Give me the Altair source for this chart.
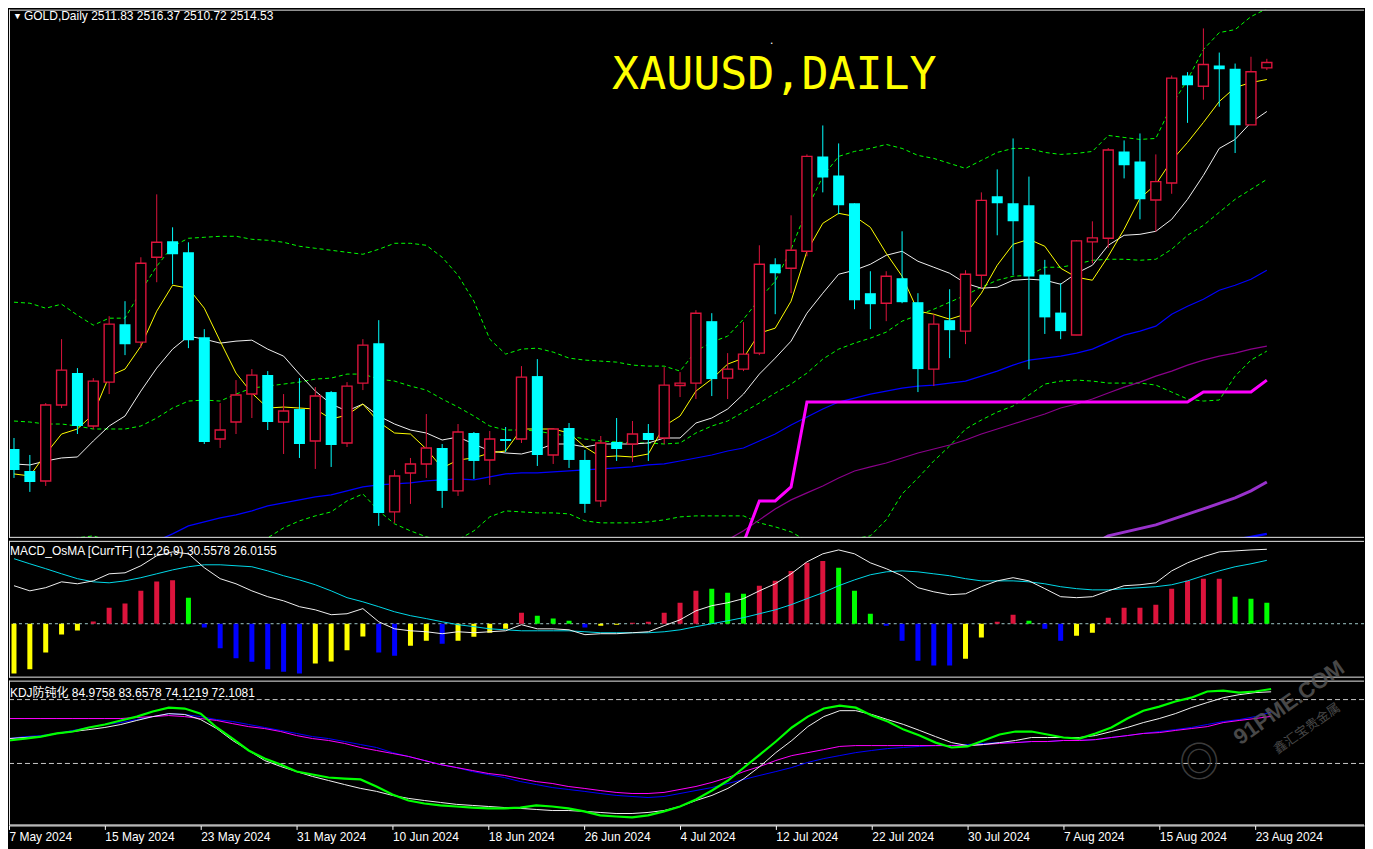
import altair as alt
import pandas as pd

# ---------------- data ----------------
tick_idx = [0, 6, 12, 18, 24, 30, 36, 42, 48, 54, 60, 66, 72, 78]
tick_labels = ["7 May 2024", "15 May 2024", "23 May 2024", "31 May 2024", "10 Jun 2024",
               "18 Jun 2024", "26 Jun 2024", "4 Jul 2024", "12 Jul 2024", "22 Jul 2024",
               "30 Jul 2024", "7 Aug 2024", "15 Aug 2024", "23 Aug 2024"]

opens = [2321, 2310, 2305, 2343, 2359, 2332.5, 2354.5, 2383.5, 2374.5, 2417,
         2425, 2419.5, 2377, 2326, 2334.5, 2348.5, 2358, 2334.5, 2341, 2325,
         2349.5, 2324, 2354, 2374, 2289.5, 2309, 2313.5, 2321.5, 2300, 2329,
         2315.5, 2326, 2326, 2357.5, 2318, 2331.5, 2315.5, 2295, 2324.5, 2323.5,
         2329, 2326.5, 2352.8, 2354, 2385, 2356.5, 2361, 2369, 2413.5, 2411.5,
         2420, 2467.5, 2458, 2444, 2399, 2394, 2406.5, 2394.5, 2361, 2385.5,
         2380, 2408, 2447.5, 2444, 2443, 2408.3, 2389.3, 2378.1, 2424.7, 2426.5,
         2469.9, 2464.9, 2445.7, 2454.2, 2508, 2502.6, 2513, 2511.4, 2483.3, 2511.83]
highs = [2326.5, 2318, 2344, 2376, 2361.5, 2356.5, 2387.5, 2395, 2417, 2448.5,
         2432, 2424.5, 2381, 2344, 2355.5, 2361, 2360, 2348.5, 2356.5, 2352,
         2350, 2354.5, 2376, 2385.5, 2310.5, 2316.5, 2338.5, 2323.5, 2333.5, 2329.5,
         2330, 2332, 2362.5, 2366, 2331.5, 2334, 2320.5, 2327.5, 2336.5, 2335,
         2333.5, 2362, 2359.5, 2390.5, 2389, 2369, 2384.5, 2423, 2416.5, 2438,
         2468.5, 2483, 2474, 2444, 2410, 2410, 2430, 2399, 2388.5, 2401,
         2410.5, 2449.5, 2461, 2476.5, 2457.4, 2415.7, 2404, 2425.5, 2435, 2471.7,
         2475.5, 2479, 2468.5, 2508, 2509.7, 2531.6, 2519.5, 2514, 2517.4, 2516.37]
lows = [2306.5, 2299.5, 2302.5, 2341.5, 2328.5, 2331, 2348.5, 2368, 2371.5, 2404.5,
        2403.5, 2371.5, 2323.5, 2321.5, 2328.5, 2336.5, 2330.5, 2318.5, 2316.5, 2311,
        2312, 2322, 2350.5, 2282.5, 2284, 2293.5, 2306.5, 2291.5, 2297.5, 2306,
        2303, 2319.5, 2324, 2312.5, 2313.5, 2311.5, 2289, 2292, 2315, 2314.5,
        2315, 2323.5, 2347, 2346, 2347.5, 2346, 2360, 2368, 2388.5, 2399,
        2417.5, 2449.5, 2438.5, 2391, 2381, 2385, 2394, 2349.5, 2352.5, 2366.5,
        2373.5, 2401.5, 2428, 2408, 2360.9, 2378.6, 2376, 2378, 2414, 2421.7,
        2456.5, 2436, 2429.9, 2448.8, 2484.3, 2495.9, 2492.4, 2469.2, 2483.3, 2510.72]
closes = [2310.5, 2304.5, 2343, 2360.5, 2332.5, 2355, 2383.5, 2373.5, 2414, 2424.5,
          2418.5, 2375.5, 2324.5, 2330.5, 2348, 2358, 2334.5, 2340, 2323.5, 2347.5,
          2323, 2352.5, 2373, 2289, 2307.5, 2313.5, 2321.5, 2300, 2329.5, 2315,
          2326, 2325, 2357, 2318, 2331, 2315.5, 2293.5, 2324, 2321, 2328.5,
          2325.5, 2353, 2354, 2389, 2356, 2361, 2368.5, 2413.5, 2409, 2420.5,
          2467.5, 2457, 2443, 2395.5, 2393.5, 2407.5, 2394.5, 2361, 2383.5, 2380.5,
          2408.5, 2445.5, 2444, 2435, 2407.4, 2386.9, 2380, 2425.2, 2426.7, 2470.7,
          2463.1, 2446, 2454.9, 2506.7, 2503.1, 2513.5, 2511.2, 2483.1, 2509.9, 2514.53]

ma_yellow = [2308.5, 2307.5, 2318.5, 2328.5, 2331, 2338.5, 2357.5, 2361, 2372.5, 2390,
             2403, 2401.5, 2391.5, 2375, 2359, 2349, 2341.5, 2342, 2341.5, 2341,
             2336, 2338, 2343.5, 2334.5, 2329, 2328.5, 2321, 2311.5, 2315.5, 2316.5,
             2319, 2320, 2331, 2331, 2331, 2329, 2322, 2317, 2317.5, 2317,
             2318.5, 2332.5, 2337.5, 2350, 2356, 2363.5, 2366.5, 2379, 2381.5, 2395,
             2420, 2434, 2439, 2437.5, 2432, 2419, 2407.5, 2390, 2388.5, 2386,
             2388.5, 2399, 2413, 2423.5, 2426, 2422.5, 2411.5, 2407, 2405.5, 2417.5,
             2431, 2446.5, 2453.5, 2465.5, 2474.5, 2484.5, 2495, 2502, 2504.5, 2506]
ma_white = [2313.5, 2313, 2315, 2316.5, 2317, 2325, 2332.5, 2337.5, 2350, 2361.5,
            2371, 2377.5, 2376, 2374, 2375, 2375.5, 2371, 2367.5, 2358.5, 2350,
            2343.5, 2340, 2343.5, 2337.5, 2333.5, 2330.5, 2329, 2325.5, 2327, 2323.5,
            2320, 2319, 2318.5, 2320.5, 2323.5, 2323.5, 2322, 2323.5, 2323.5, 2323.5,
            2324, 2326.5, 2326.5, 2334, 2336.5, 2341, 2348.5, 2358.5, 2366.5, 2375,
            2389, 2399, 2408.5, 2410.5, 2413.5, 2418, 2420, 2415, 2412, 2409,
            2404, 2401.5, 2402, 2405.5, 2406, 2405.5, 2403.5, 2409, 2413, 2423,
            2428, 2428.5, 2430, 2436, 2446, 2458, 2471.5, 2476, 2484.5, 2490]
bb_upper = [2394.5, 2394, 2391.5, 2393.5, 2388, 2383, 2386.5, 2386.5, 2400, 2412.5,
            2422.5, 2426.5, 2427, 2427.5, 2427.5, 2426, 2425.5, 2424.5, 2422.5, 2421.5,
            2420.5, 2419.5, 2418.5, 2421, 2424, 2424, 2423, 2417, 2408, 2395,
            2376, 2368.5, 2371, 2371.5, 2369.5, 2366.5, 2365.5, 2365, 2364.5, 2363,
            2362.5, 2362.5, 2360, 2370, 2374.5, 2377.5, 2386, 2396, 2405, 2421,
            2441, 2457.5, 2467.5, 2470, 2471.5, 2473.5, 2471.5, 2468, 2466.5, 2464,
            2461.5, 2465.5, 2469.5, 2471.5, 2471.5, 2469.5, 2468.5, 2469, 2470, 2478,
            2477, 2476, 2476.5, 2493, 2506, 2521, 2529.5, 2531, 2537.5, 2541.5]
bb_mid = [2335, 2334.5, 2333.5, 2333.5, 2332.5, 2331, 2331, 2331, 2332.5, 2336.5,
          2341.5, 2345, 2345.5, 2345, 2348.5, 2351.5, 2352.5, 2353.5, 2354.5, 2356,
          2356.5, 2358.5, 2358.5, 2356, 2355, 2352.5, 2350.5, 2346, 2342, 2337.5,
          2332.5, 2330.5, 2330.5, 2330, 2328.5, 2327.5, 2326, 2325, 2324.5, 2324,
          2324, 2323.5, 2324, 2329, 2332.5, 2335, 2339.5, 2344, 2349, 2353.5,
          2359, 2366, 2371, 2374, 2376.5, 2379.5, 2385, 2388, 2391, 2394.5,
          2398, 2402, 2405.5, 2407.5, 2408, 2412, 2412, 2413.5, 2415.5, 2416,
          2416, 2415.5, 2416, 2421, 2428, 2433, 2439.5, 2446, 2451, 2456]
bb_lower = [2275, 2274, 2275, 2272.5, 2276.5, 2277.5, 2275, 2272.5, 2265, 2260,
            2252.5, 2250, 2252.5, 2255, 2260, 2267.5, 2276.5, 2281.5, 2285, 2287.5,
            2289.5, 2295, 2298.5, 2290, 2283.5, 2280, 2277, 2275, 2275.5, 2280,
            2287, 2290, 2289.5, 2289, 2289, 2288.5, 2285, 2284, 2284, 2284,
            2284.5, 2285.5, 2287, 2287.5, 2287.5, 2287.5, 2287.5, 2284, 2282, 2279.5,
            2275, 2272.5, 2273.5, 2276, 2277.5, 2285.5, 2298.5, 2306.5, 2315, 2322.5,
            2331, 2335.5, 2339.5, 2342.5, 2348, 2353.5, 2355, 2355.5, 2355, 2354,
            2354, 2354, 2353, 2349.5, 2346, 2345, 2345.5, 2357.5, 2365.5, 2370]
ma_blue = [2257.5, 2259, 2260.5, 2262.5, 2264.5, 2266, 2268.5, 2270.5, 2272.5, 2275,
           2278.5, 2282.5, 2284.5, 2286.5, 2288, 2290, 2292.5, 2294, 2295.5, 2297,
           2298, 2300, 2302, 2303, 2303.5, 2304, 2305, 2305.5, 2306, 2305.5,
           2307, 2308.5, 2309, 2309, 2309.5, 2310, 2310.5, 2311, 2311.5, 2312,
           2313, 2313.5, 2315, 2316.5, 2318, 2320, 2321.5, 2325, 2328.5, 2333,
           2337, 2341, 2344.5, 2346.5, 2348.5, 2350, 2351.5, 2352.5, 2353, 2354,
           2355, 2357.5, 2360, 2363, 2365.5, 2366.5, 2367.5, 2369, 2371, 2374.5,
           2378, 2380, 2382.5, 2388.5, 2392.5, 2396, 2400.5, 2403, 2406, 2410.5]
ma_purple_start = 45
ma_purple = [2275.5, 2280, 2285.5, 2291, 2295.5, 2299, 2302.5, 2306.5, 2310, 2312,
             2314, 2316.5, 2319, 2321, 2323, 2325.5, 2328.5, 2331, 2333.5, 2336,
             2338.5, 2341.5, 2343.5, 2346, 2349, 2352, 2354.5, 2357.5, 2360, 2363,
             2365.5, 2367.5, 2369, 2371, 2372.5]
step_start = 46
step_magenta = [2274, 2295, 2295, 2302] + [2344.5] * 25 + [2349.5] * 4 + [2355.5]
violet_idx = [68, 69, 72, 75, 77, 78, 79]
violet_vals = [2273, 2277.5, 2283, 2291, 2296.5, 2300, 2304.5]
blue2_idx = [77, 78, 79]
blue2_vals = [2275.5, 2277, 2278.5]

macd_hist = [-20.4, -18.7, -11.8, -4.4, -2.8, 0.9, 6.6, 8.3, 13.5, 17.3,
             17.8, 10.7, -1.5, -10.1, -14.2, -15.6, -18.7, -19.7, -20.4, -16.3,
             -15.5, -10.9, -5.2, -11.8, -13.1, -9.0, -7.0, -8.2, -7.0, -5.3,
             -3.7, -2.1, 4.5, 3.3, 2.1, 1.2, -1.6, -0.8, -0.4, 0.4,
             0.8, 4.5, 8.6, 13.5, 14.4, 12.7, 12.3, 15.6, 17.6, 21.7,
             25.0, 25.8, 23.0, 13.5, 4.1, -0.8, -7.0, -15.2, -17.2, -17.2,
             -14.4, -5.7, 0.8, 3.7, 1.2, -2.1, -7.0, -4.9, -3.7, 2.5,
             6.6, 6.6, 7.8, 14.4, 17.6, 18.5, 18.5, 11.1, 10.3, 8.6]
macd_hist_color = list("YYYYYRRRRRRGBBBBBBBYYYYBBYYBYYYYRGGGBYYRRRRRGGGRRRRRGGGBBBBBYYRRGBBYYRRRRRRRRGGG")
macd_main = [15.6, 13.5, 14.8, 17.2, 16.4, 17.6, 20.5, 20.9, 23.8, 27.9,
             29.5, 28.7, 23.0, 18.5, 16.4, 13.5, 11.1, 9.4, 7.0, 5.7,
             3.7, 4.1, 6.2, 0.8, -2.1, -2.9, -3.3, -4.1, -3.3, -3.7,
             -3.3, -2.9, -0.4, -2.1, -2.1, -2.5, -4.5, -4.1, -4.1, -3.7,
             -3.3, -0.8, 1.6, 5.3, 7.4, 8.6, 10.3, 13.5, 16.4, 20.5,
             25.4, 28.7, 30.3, 28.7, 25.0, 22.6, 19.7, 14.8, 13.1, 11.9,
             12.3, 15.2, 17.6, 18.9, 17.6, 14.4, 11.1, 10.7, 11.1, 13.5,
             15.6, 16.0, 16.8, 21.7, 25.0, 27.5, 29.5, 29.9, 30.3, 30.56]
macd_signal = [26.7, 24.6, 22.6, 20.5, 18.5, 17.2, 16.8, 17.6, 18.9, 20.5,
               22.1, 23.4, 24.2, 24.2, 23.8, 23.4, 21.7, 19.7, 18.0, 16.0,
               13.5, 10.7, 9.0, 7.0, 4.9, 3.3, 2.1, 0.8, -0.4, -1.2,
               -2.1, -2.5, -2.9, -2.9, -2.9, -2.9, -3.3, -3.7, -3.7, -3.7,
               -3.7, -3.3, -2.5, -1.2, 0.0, 1.2, 2.5, 4.1, 5.7, 7.8,
               10.3, 12.7, 15.6, 18.0, 20.1, 21.3, 21.7, 21.3, 20.5, 19.7,
               18.5, 17.6, 17.6, 17.6, 17.2, 16.4, 15.2, 14.4, 13.9, 13.9,
               14.4, 14.8, 15.2, 16.0, 17.6, 19.7, 21.7, 23.4, 24.6, 26.02]

kdj_green = [60.8, 61.7, 62.6, 64.1, 65.0, 66.9, 68.3, 70.2, 72.0, 74.4,
             76.2, 75.8, 73.4, 66.9, 61.7, 56.1, 52.3, 49.5, 46.2, 44.8,
             43.4, 42.9, 42.5, 39.2, 35.4, 32.6, 31.2, 30.3, 29.8, 29.3,
             28.9, 28.9, 29.3, 30.3, 29.8, 28.9, 27.5, 25.6, 25.1, 24.7,
             25.6, 27.5, 29.8, 33.1, 37.3, 42.0, 48.1, 54.2, 60.3, 66.9,
             72.0, 75.8, 77.2, 76.2, 72.5, 69.7, 65.9, 63.1, 59.8, 57.5,
             58.0, 60.8, 63.6, 65.0, 65.0, 63.6, 62.2, 61.7, 64.1, 66.9,
             71.1, 74.8, 76.7, 79.1, 80.9, 83.8, 84.2, 83.3, 83.8, 84.98]
kdj_white = [61.7, 62.2, 62.6, 64.1, 65.0, 65.9, 66.9, 68.3, 70.2, 72.0,
             73.4, 73.0, 70.6, 66.4, 60.8, 56.1, 51.4, 48.6, 46.2, 43.9,
             42.0, 40.1, 38.3, 36.9, 35.0, 33.6, 32.6, 31.7, 30.8, 30.3,
             29.8, 29.3, 28.9, 28.4, 27.9, 27.9, 27.5, 27.0, 26.5, 26.5,
             27.0, 27.9, 29.8, 32.6, 35.0, 38.3, 42.9, 48.6, 55.1, 60.8,
             67.3, 72.0, 74.8, 74.8, 73.0, 70.6, 68.3, 65.5, 62.6, 59.8,
             58.4, 58.9, 59.8, 60.8, 62.2, 62.2, 62.2, 62.2, 63.1, 65.0,
             66.9, 69.2, 71.1, 73.4, 76.2, 78.6, 80.9, 82.3, 83.3, 83.66]
kdj_magenta = [71.1, 71.1, 71.1, 71.1, 71.1, 71.1, 71.1, 71.1, 71.6, 72.0,
               72.5, 72.0, 71.1, 70.2, 68.7, 67.3, 66.4, 65.0, 63.1, 61.7,
               60.8, 59.4, 57.5, 56.1, 54.7, 53.3, 51.4, 49.5, 48.1, 46.7,
               45.3, 44.4, 42.9, 41.5, 40.6, 39.2, 38.3, 37.3, 36.4, 35.9,
               35.9, 36.4, 37.8, 39.2, 41.1, 43.4, 46.2, 48.6, 51.4, 53.7,
               55.1, 56.5, 58.0, 58.4, 58.4, 58.4, 58.4, 58.4, 58.4, 58.4,
               58.4, 58.9, 59.4, 59.8, 60.3, 60.3, 60.8, 60.8, 61.2, 62.2,
               63.1, 64.1, 64.5, 65.5, 66.4, 67.3, 69.2, 70.2, 71.1, 72.11]
kdj_blue = [61.7, 62.6, 63.1, 64.1, 65.5, 66.9, 68.3, 69.2, 70.6, 72.0,
            73.4, 73.0, 72.0, 70.6, 69.7, 68.3, 66.9, 65.5, 64.1, 62.6,
            61.7, 60.3, 58.9, 57.5, 55.1, 53.3, 51.4, 49.5, 48.1, 46.2,
            44.8, 43.4, 41.5, 40.1, 38.7, 37.8, 36.9, 35.9, 35.0, 34.5,
            34.0, 34.5, 35.9, 37.3, 38.7, 40.6, 42.5, 44.4, 46.2, 48.1,
            50.5, 52.3, 53.7, 55.1, 56.1, 57.0, 57.5, 58.0, 58.4, 58.4,
            58.9, 59.4, 59.8, 59.8, 60.3, 60.3, 60.8, 60.8, 61.2, 62.2,
            63.1, 64.1, 65.0, 65.9, 66.9, 68.3, 69.7, 70.6, 72.0, 74.12]
kdj_levels = [80, 50]

# ---------------- styling / layout ----------------
CRIMSON = "#DC143C"
CYAN = "#00FFFF"
BORDER = "#E8E8E8"
FONT = "Tahoma, 'Liberation Sans', 'Noto Sans CJK SC', sans-serif"
W = 1357
H_MAIN, H_MACD, H_KDJ = 529, 137, 145
N = len(opens)
IDX = list(range(N))

xs = alt.Scale(domain=[0, W / 16], nice=False, zero=False)
ys_main = alt.Scale(domain=[2276.5, 2541], nice=False, zero=False)
ys_macd = alt.Scale(domain=[-22.14, 34.03], nice=False, zero=False)
ys_kdj = alt.Scale(domain=[20.9, 88.9], nice=False, zero=False)

label_expr = ("[" + ",".join("'%s'" % s for s in tick_labels) + "][indexof(["
              + ",".join(str(i) for i in tick_idx) + "], datum.value)]")
x_axis = alt.Axis(values=tick_idx, labelExpr=label_expr, labelAlign="left", labelBaseline="top",
                  labelPadding=2, labelColor="white", labelFont=FONT, labelFontSize=12,
                  tickColor="white", tickSize=4, domainColor="white", grid=False,
                  labelOverlap=False, labelFlush=False, labelBound=False, title=None)


def sdf(vals, idxs=None, start=0):
    if idxs is None:
        idxs = list(range(start, start + len(vals)))
    return pd.DataFrame({"i": idxs, "v": vals})


def line(df, color, ys, width=1.0, dash=None, xaxis=None):
    kw = dict(color=color, strokeWidth=width, clip=True)
    if dash:
        kw["strokeDash"] = dash
    return alt.Chart(df).mark_line(**kw).encode(
        x=alt.X("i:Q", scale=xs, axis=xaxis, title=None),
        y=alt.Y("v:Q", scale=ys, axis=None))


def txt(s, x, y, size=12, color="white", font=FONT, angle=None, weight="normal", align="left", opacity=1.0):
    kw = dict(align=align, baseline="middle", fontSize=size, color=color, font=font,
              fontWeight=weight, opacity=opacity)
    if angle is not None:
        kw["angle"] = angle
    return alt.Chart(pd.DataFrame({"t": [s]})).mark_text(**kw).encode(
        x=alt.value(x), y=alt.value(y), text="t:N")


def borders(h):
    one = pd.DataFrame({"t": [0]})
    return [
        alt.Chart(one).mark_rule(color=BORDER, strokeWidth=1).encode(
            x=alt.value(0), x2=alt.value(W), y=alt.value(0.5)),
        alt.Chart(one).mark_rule(color=BORDER, strokeWidth=1).encode(
            x=alt.value(0), x2=alt.value(W), y=alt.value(h - 0.5)),
        alt.Chart(one).mark_rule(color=BORDER, strokeWidth=1).encode(
            x=alt.value(0.5), y=alt.value(0), y2=alt.value(h)),
    ]


# ---- main price panel ----
cdf = pd.DataFrame({"i": IDX, "o": opens, "h": highs, "l": lows, "c": closes})
up = cdf[cdf.c >= cdf.o]
dn = cdf[cdf.c < cdf.o]

GREEN_DASH = [4, 3]
main_layers = [
    line(sdf(bb_upper), "#00FF00", ys_main, 1, GREEN_DASH),
    line(sdf(bb_mid), "#00FF00", ys_main, 1, GREEN_DASH),
    line(sdf(bb_lower), "#00FF00", ys_main, 1, GREEN_DASH),
    line(sdf(ma_blue), "#0000FF", ys_main, 1.2),
    line(sdf(ma_purple, start=ma_purple_start), "#8B008B", ys_main, 1.2),
    line(sdf(violet_vals, idxs=violet_idx), "#9932CC", ys_main, 3),
    line(sdf(blue2_vals, idxs=blue2_idx), "#0000FF", ys_main, 2.5),
    line(sdf(step_magenta, start=step_start), "#FF00FF", ys_main, 3),
    line(sdf(ma_white), "#F0F0F0", ys_main, 1),
    line(sdf(ma_yellow), "#FFFF00", ys_main, 1),
]
for d, col in ((up, CRIMSON), (dn, CYAN)):
    main_layers.append(alt.Chart(d).mark_rule(color=col, strokeWidth=1, clip=True).encode(
        x=alt.X("i:Q", scale=xs, axis=None),
        y=alt.Y("l:Q", scale=ys_main, axis=None), y2="h:Q"))
main_layers.append(alt.Chart(dn).mark_bar(size=11, color=CYAN, clip=True).encode(
    x=alt.X("i:Q", scale=xs, axis=None),
    y=alt.Y("o:Q", scale=ys_main, axis=None), y2="c:Q"))
main_layers.append(alt.Chart(up).mark_bar(size=10, fill="black", stroke=CRIMSON, strokeWidth=1.4, clip=True).encode(
    x=alt.X("i:Q", scale=xs, axis=None),
    y=alt.Y("o:Q", scale=ys_main, axis=None), y2="c:Q"))
main_layers += borders(H_MAIN)
main_layers += [
    txt("\u25BC", 4, 6, size=9),
    txt("GOLD,Daily  2511.83 2516.37 2510.72 2514.53", 15, 6, size=12),
    txt("XAUUSD,DAILY", 604, 65, size=45, color="#FFFF00", font="'DejaVu Sans Mono', monospace"),
    txt(".", 762, 30, size=12),
]
main = alt.layer(*main_layers).properties(width=W, height=H_MAIN)

# ---- MACD panel ----
hdf = pd.DataFrame({"i": IDX, "v": macd_hist, "k": macd_hist_color})
hist_colors = {"R": CRIMSON, "G": "#00FF00", "B": "#0000FF", "Y": "#FFFF00"}
macd_layers = [
    alt.Chart(sdf([0])).mark_rule(color="#9FC8C8", strokeDash=[3, 3], strokeWidth=1).encode(
        y=alt.Y("v:Q", scale=ys_macd, axis=None)),
]
for k, col in hist_colors.items():
    macd_layers.append(alt.Chart(hdf[hdf.k == k]).mark_bar(size=5, color=col, clip=True).encode(
        x=alt.X("i:Q", scale=xs, axis=None),
        y=alt.Y("v:Q", scale=ys_macd, axis=None), y2=alt.datum(0)))
macd_layers += [
    line(sdf(macd_signal), "#00D8E8", ys_macd, 1),
    line(sdf(macd_main), "#F0F0F0", ys_macd, 1),
]
macd_layers += borders(H_MACD)
macd_layers.append(txt("MACD_OsMA [CurrTF] (12,26,9) 30.5578 26.0155", 1, 10, size=12))
macd = alt.layer(*macd_layers).properties(width=W, height=H_MACD)

# ---- KDJ panel ----
kdj_layers = [
    alt.Chart(sdf(kdj_levels)).mark_rule(color="#C8C8C8", strokeDash=[5, 3], strokeWidth=1).encode(
        y=alt.Y("v:Q", scale=ys_kdj, axis=None)),
    line(sdf(kdj_blue), "#0000FF", ys_kdj, 1, xaxis=x_axis),
    line(sdf(kdj_magenta), "#FF00FF", ys_kdj, 1, xaxis=x_axis),
    line(sdf(kdj_white), "#F0F0F0", ys_kdj, 1, xaxis=x_axis),
    line(sdf(kdj_green), "#00FF00", ys_kdj, 2.2, xaxis=x_axis),
]
kdj_layers += borders(H_KDJ)
kdj_layers += [
    txt("KDJ\u9632\u949d\u5316 84.9758 83.6578 74.1219 72.1081", 1, 12, size=12),
    txt("91PME.COM", 1282, 22, size=22, color="#5a5a5a", weight="bold", angle=325, align="center", opacity=0.8),
    txt("\u946b\u6c47\u5b9d\u8d35\u91d1\u5c5e", 1300, 48, size=13, color="#5a5a5a", angle=325, align="center", opacity=0.8),
    txt("\u25CE", 1192, 84, size=40, color="#4a4a4a", align="center", opacity=0.8),
]
kdj = alt.layer(*kdj_layers).properties(width=W, height=H_KDJ)

chart = alt.vconcat(main, macd, kdj, spacing=3, bounds="flush").resolve_scale(
    x="independent", y="independent").properties(
    padding={"left": 0, "top": 0, "right": 0, "bottom": 22}
).configure(background="black").configure_view(stroke="transparent", strokeWidth=0, fill="black")

chart.save("out.html", embed_options={"renderer": "svg", "actions": False})
